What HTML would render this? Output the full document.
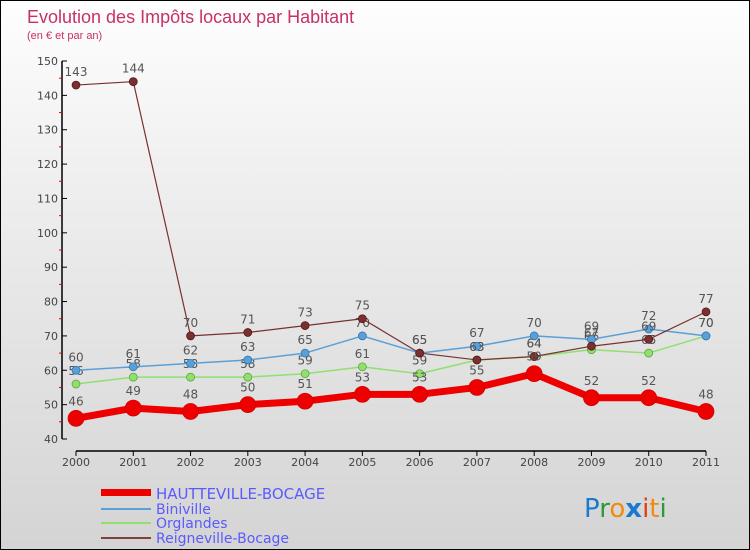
<!DOCTYPE html>
<html><head><meta charset="utf-8"><style>
body{margin:0}
#c{width:748px;height:548px;border:1px solid #000;background:linear-gradient(#fefefe,#f0f0f0 30%,#d4d4d4);position:relative;font-family:"DejaVu Sans","Liberation Sans",sans-serif;overflow:hidden}
</style></head><body>
<div id="c">
<svg id="s" width="748" height="548" xmlns="http://www.w3.org/2000/svg">
<text x="26" y="22" font-size="18" fill="#c8306a" font-family="Liberation Sans, sans-serif">Evolution des Impôts locaux par Habitant</text>
<text x="26" y="38" font-size="11" fill="#c8306a" font-family="Liberation Sans, sans-serif">(en € et par an)</text>
<g id="axes"></g><g id="series"></g>
<g>
<rect x="100" y="488" width="50" height="7" fill="#e00"/>
<text x="155" y="498" font-size="15" fill="#5a5aff">HAUTTEVILLE-BOCAGE</text>
<line x1="100" y1="508" x2="150" y2="508" stroke="#5aa0d8" stroke-width="2"/>
<text x="155" y="513" font-size="14" fill="#5a5aff">Biniville</text>
<line x1="100" y1="522" x2="150" y2="522" stroke="#90e070" stroke-width="2"/>
<text x="155" y="527" font-size="14" fill="#5a5aff">Orglandes</text>
<line x1="100" y1="537" x2="150" y2="537" stroke="#804040" stroke-width="2"/>
<text x="155" y="542" font-size="14" fill="#5a5aff">Reigneville-Bocage</text>
</g>
<text x="583" y="516" font-size="26" font-family="DejaVu Sans, sans-serif"><tspan fill="#1a7ad0">P</tspan><tspan fill="#2a9a3a">r</tspan><tspan fill="#f08a10">o</tspan><tspan fill="#1a7ad0" font-weight="bold">x</tspan><tspan fill="#e04010">i</tspan><tspan fill="#f08a10">t</tspan><tspan fill="#2a9a3a">i</tspan></text>
</svg></div>
<script>
const years=[2000,2001,2002,2003,2004,2005,2006,2007,2008,2009,2010,2011];
const yTicks=[40,50,60,70,80,90,100,110,120,130,140,150];
const hautteville=[46,49,48,50,51,53,53,55,59,52,52,48];
const biniville=[60,61,62,63,65,70,65,67,70,69,72,70];
const orglandes=[56,58,58,58,59,61,59,63,64,66,65,70];
const reigneville=[143,144,70,71,73,75,65,63,64,67,69,77];
const NS="http://www.w3.org/2000/svg";
const X=i=>75+i*(705-75)/11;
const Y=v=>438-(v-40)*(438-60)/110;
function mk(t,a,p){const e=document.createElementNS(NS,t);for(const k in a)e.setAttribute(k,a[k]);p.appendChild(e);return e;}
const ax=document.getElementById('axes');
const yl=mk('line',{x1:61,y1:60,x2:61,y2:438,stroke:'#000','stroke-width':1.5},ax);


const xl=mk('line',{x1:75,y1:450,x2:705,y2:450,stroke:'#000','stroke-width':1.5},ax);


yTicks.forEach(v=>{
  mk('line',{x1:61,y1:Y(v),x2:66,y2:Y(v),stroke:'#000'},ax);
  if(v<150)mk('line',{x1:58,y1:Y(v+5),x2:61,y2:Y(v+5),stroke:'#e00'},ax);
  const t=mk('text',{x:57,y:Y(v)+4,'font-size':11,fill:'#444','text-anchor':'end'},ax);t.textContent=v;
  
  
});
years.forEach((y,i)=>{
  mk('line',{x1:X(i),y1:450,x2:X(i),y2:455,stroke:'#000'},ax);
  const t=mk('text',{x:X(i),y:465,'font-size':11,fill:'#444','text-anchor':'middle'},ax);t.textContent=y;
  
  
});
const sg=document.getElementById('series');
function series(d,col,w,r,name,dark){
  const g=mk('g',{},sg);
  
  
  mk('polyline',{points:d.map((v,i)=>X(i)+','+Y(v)).join(' '),fill:'none',stroke:col,'stroke-width':w,'stroke-linejoin':'round'},g);
  d.forEach((v,i)=>{
    const c=mk('circle',{cx:X(i),cy:Y(v),r:r,fill:col,stroke:dark,'stroke-width':0.7},g);
    
    
    const t=mk('text',{x:X(i),y:Y(v)-(r+5),'font-size':12,fill:'#555','text-anchor':'middle'},g);t.textContent=v;
    
    
  });
}
series(orglandes,'#90e070',1.5,4,'orglandes','#5a9a30');
series(biniville,'#5aa0d8',1.5,4,'biniville','#2a70b0');
series(reigneville,'#7a3030',1.2,4,'reigneville','#501010');
series(hautteville,'#ee0000',7,8,'hautteville','#c00');
</script>
</body></html>
